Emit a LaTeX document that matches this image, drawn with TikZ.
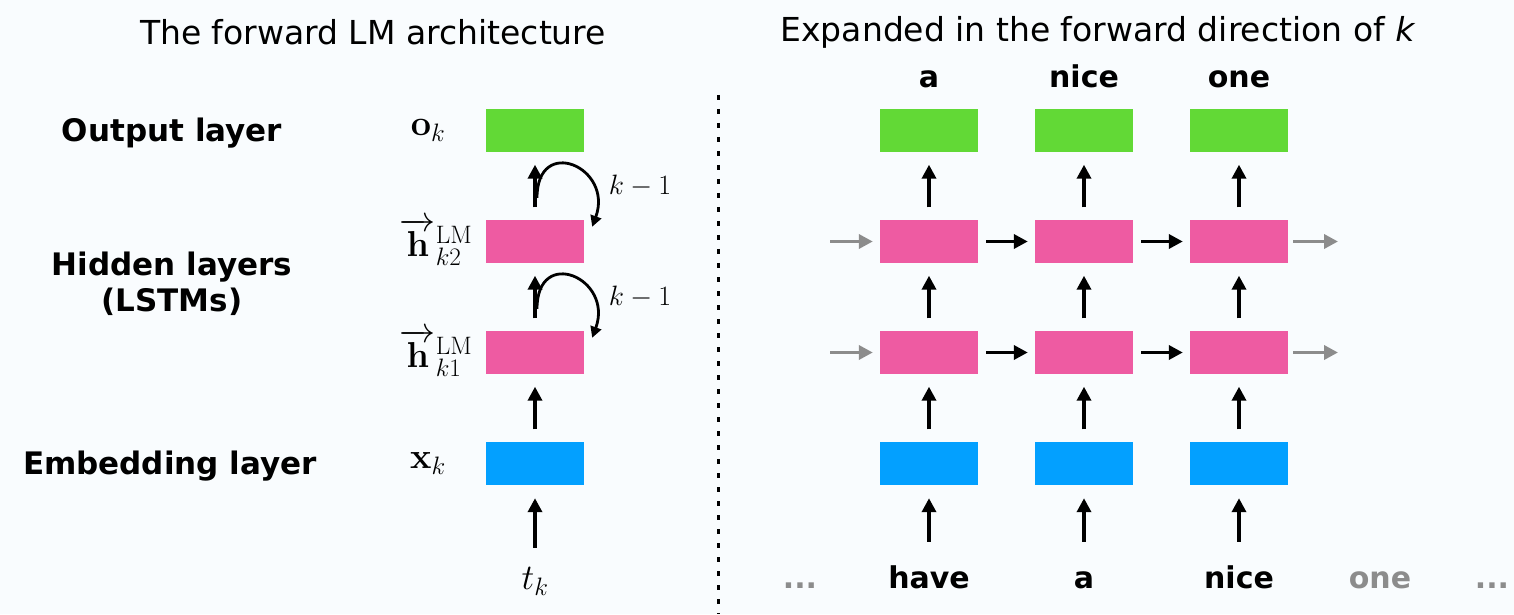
\RequirePackage{fix-cm}
\documentclass[tikz,border=0pt]{standalone}
\usepackage{amsmath}
\usepackage[no-math]{fontspec}
\setmainfont{DejaVu Sans}
\usetikzlibrary{positioning}
\usetikzlibrary{arrows.meta}

\definecolor{bgcol}{RGB}{249,252,254}
\definecolor{outgreen}{RGB}{98,217,54}
\definecolor{hidpink}{RGB}{238,91,162}
\definecolor{embblue}{RGB}{3,160,255}
\definecolor{fadegray}{RGB}{140,140,140}

\tikzset{
  layer/.style={minimum width=98pt, minimum height=43pt, inner sep=0pt},
  outlayer/.style={layer, fill=outgreen},
  hidlayer/.style={layer, fill=hidpink},
  emblayer/.style={layer, fill=embblue},
  arr/.style={-{Triangle[width=14pt,length=14pt]}, line width=3.5pt},
  up/.style={arr, shorten <=12.5pt, shorten >=12.5pt},
  fwd/.style={arr, shorten <=8pt, shorten >=7pt},
  loopback/.style={-{Triangle[width=11pt,length=11pt]}, line width=2.8pt},
  title/.style={font=\fontsize{33}{40}\selectfont},
  layername/.style={font=\fontsize{31}{36}\selectfont\bfseries, align=center},
  word/.style={font=\fontsize{30}{36}\selectfont\bfseries, text height=22pt, text depth=6pt, inner sep=0pt},
  sym/.style={font=\fontsize{36}{42}\selectfont, inner sep=0pt},
  recur/.style={font=\fontsize{28}{34}\selectfont}
}

\begin{document}
\begin{tikzpicture}[x=1pt,y=1pt,node distance=155pt,on grid]
    \useasboundingbox (0,0) rectangle (1514,614);
    \fill[bgcol] (0,0) rectangle (1514,614);

    \node[title] (title_l) at (373,582) {The forward LM architecture};
    \node[title] (title_r) at (1098,582) {Expanded in the forward direction of \textit{k}};

    % single time step
    \node[emblayer]                          (x_k)  at (535,150.5) {};
    \node[hidlayer, above=111pt of x_k]      (h_k1) {};
    \node[hidlayer, above=111pt of h_k1]     (h_k2) {};
    \node[outlayer, above=111pt of h_k2]     (o_k)  {};

    \node[layername] (name_o) at (172,481) {Output layer};
    \node[layername] (name_h) at (172,330) {Hidden layers\\(LSTMs)};
    \node[layername] (name_x) at (170,148) {Embedding layer};

    \node[sym, left=107pt of o_k]  (sym_o)  {$\mathbf{o}_k$};
    \node[sym, left=99pt of h_k2]  (sym_h2) {$\overrightarrow{\mathbf{h}}{}^{\mathrm{LM}}_{k2}$};
    \node[sym, left=99pt of h_k1]  (sym_h1) {$\overrightarrow{\mathbf{h}}{}^{\mathrm{LM}}_{k1}$};
    \node[sym, left=107pt of x_k]  (sym_x)  {$\mathbf{x}_k$};
    \node[sym, below=118pt of x_k] (t_k)    {$t_k$};

    \node[recur, above right=55.5pt and 105pt of h_k2] (rec_2) {$k-1$};
    \node[recur, above right=55.5pt and 105pt of h_k1] (rec_1) {$k-1$};

    \draw[up] (x_k) -- (h_k1);
    \draw[up] (h_k1) -- (h_k2);
    \draw[up] (h_k2) -- (o_k);
    \draw[arr, shorten <=20pt, shorten >=13pt] (t_k) -- (x_k);

    \draw[loopback] ([shift={(2pt,22pt)}]h_k2.north) to[out=90,in=70,looseness=2.6] ([shift={(8pt,-7pt)}]h_k2.north east);
    \draw[loopback] ([shift={(2pt,22pt)}]h_k1.north) to[out=90,in=70,looseness=2.6] ([shift={(8pt,-7pt)}]h_k1.north east);

    % separator
    \draw[line width=3pt, dash pattern=on 5pt off 9pt] (718,519) -- (718,0);

    % unrolled over three steps
    \node[emblayer]                       (x_1)  at (929,150.5) {};
    \node[emblayer, right=of x_1]         (x_2)  {};
    \node[emblayer, right=of x_2]         (x_3)  {};
    \node[hidlayer, above=111pt of x_1]   (h1_1) {};
    \node[hidlayer, above=111pt of x_2]   (h1_2) {};
    \node[hidlayer, above=111pt of x_3]   (h1_3) {};
    \node[hidlayer, above=111pt of h1_1]  (h2_1) {};
    \node[hidlayer, above=111pt of h1_2]  (h2_2) {};
    \node[hidlayer, above=111pt of h1_3]  (h2_3) {};
    \node[outlayer, above=111pt of h2_1]  (o_1)  {};
    \node[outlayer, above=111pt of h2_2]  (o_2)  {};
    \node[outlayer, above=111pt of h2_3]  (o_3)  {};

    \node[word, above=51pt of o_1] (y_1) {a};
    \node[word, above=51pt of o_2] (y_2) {nice};
    \node[word, above=51pt of o_3] (y_3) {one};

    \node[word, below=116.5pt of x_1] (w_1) {have};
    \node[word, below=116.5pt of x_2] (w_2) {a};
    \node[word, below=116.5pt of x_3] (w_3) {nice};
    \node[word, text=fadegray, right=141pt of w_3] (w_4) {one};
    \node[word, text=fadegray, left=129pt of w_1]  (w_0) {...};
    \node[word, text=fadegray, right=112pt of w_4] (w_5) {...};

    \coordinate[left=99pt of h1_1]  (in_1);
    \coordinate[left=99pt of h2_1]  (in_2);
    \coordinate[right=99pt of h1_3] (out_1);
    \coordinate[right=99pt of h2_3] (out_2);

    \draw[arr, shorten <=24pt, shorten >=13pt] (w_1) -- (x_1);
    \draw[arr, shorten <=24pt, shorten >=13pt] (w_2) -- (x_2);
    \draw[arr, shorten <=24pt, shorten >=13pt] (w_3) -- (x_3);

    \draw[up] (x_1) -- (h1_1);
    \draw[up] (x_2) -- (h1_2);
    \draw[up] (x_3) -- (h1_3);
    \draw[up] (h1_1) -- (h2_1);
    \draw[up] (h1_2) -- (h2_2);
    \draw[up] (h1_3) -- (h2_3);
    \draw[up] (h2_1) -- (o_1);
    \draw[up] (h2_2) -- (o_2);
    \draw[up] (h2_3) -- (o_3);

    \draw[fwd] (h1_1) -- (h1_2);
    \draw[fwd] (h1_2) -- (h1_3);
    \draw[fwd] (h2_1) -- (h2_2);
    \draw[fwd] (h2_2) -- (h2_3);

    \draw[arr, fadegray, shorten >=7pt] (in_1) -- (h1_1);
    \draw[arr, fadegray, shorten >=7pt] (in_2) -- (h2_1);
    \draw[arr, fadegray, shorten <=5pt] (h1_3) -- (out_1);
    \draw[arr, fadegray, shorten <=5pt] (h2_3) -- (out_2);
\end{tikzpicture}
\end{document}
